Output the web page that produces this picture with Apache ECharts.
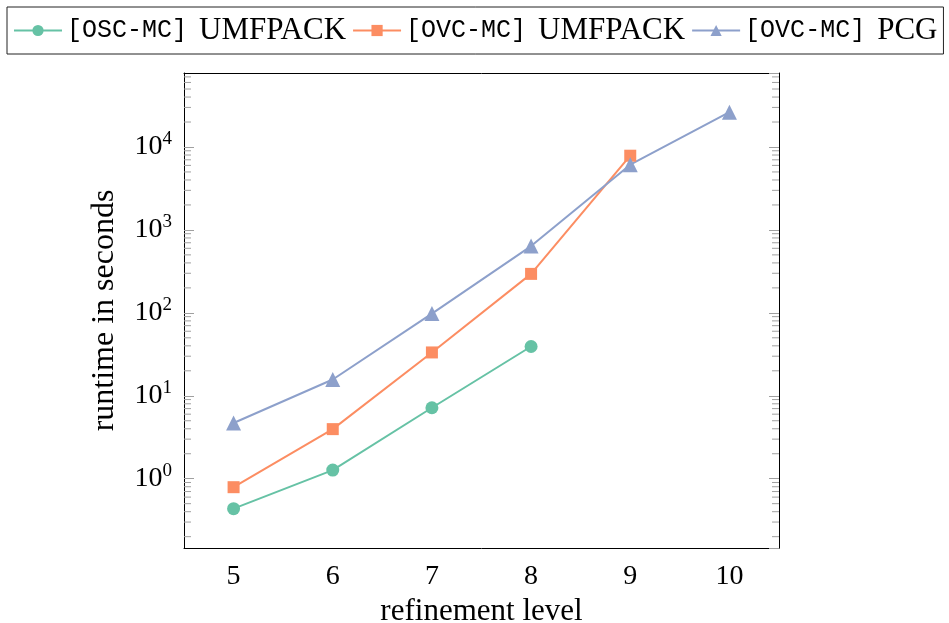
<!DOCTYPE html>
<html><head><meta charset="utf-8">
<script src="https://cdn.jsdelivr.net/npm/echarts@6/dist/echarts.min.js"></script>
<style>html,body{margin:0;padding:0;background:#fff}#c{width:949px;height:623px}</style>
</head><body><div id="c"></div>
<script>
// ---- data ----
const levels = ['5', '6', '7', '8', '9', '10'];
const oscUmfpack = [0.435, 1.27, 7.17, 39.3];
const ovcUmfpack = [0.79, 3.96, 33.3, 295, 7850];
const ovcPcg = [4.7, 15.7, 98, 638, 6120, 26300];
const seriesNames = ['[OSC-MC] UMFPACK', '[OVC-MC] UMFPACK', '[OVC-MC] PCG'];
const yMin = 0.146;
const yMax = 78000;
const minorTickValues = [
  0.2, 0.3, 0.4, 0.5, 0.6, 0.7, 0.8, 0.9,
  2, 3, 4, 5, 6, 7, 8, 9,
  20, 30, 40, 50, 60, 70, 80, 90,
  200, 300, 400, 500, 600, 700, 800, 900,
  2000, 3000, 4000, 5000, 6000, 7000, 8000, 9000,
  20000, 30000, 40000, 50000, 60000, 70000
];
// ---- styling ----
const SERIF = '"Liberation Serif", "DejaVu Serif", serif';
const MONO = '"Liberation Mono", "DejaVu Sans Mono", monospace';
const colors = ['#66c2a5', '#fc8d62', '#8da0cb'];
const tickColor = '#a0a0a0';

const chart = echarts.init(document.getElementById('c'), null, {renderer: 'canvas'});

function expLabel(v) {
  const e = Math.round(Math.log10(v));
  return '{b|10}{e|' + e + '}';
}

const yLabelRich = {
  b: {fontFamily: SERIF, fontSize: 28, color: '#000'},
  e: {fontFamily: SERIF, fontSize: 19, color: '#000', verticalAlign: 'top', padding: [0, 0, 15, 0]}
};

const lineSeries = [oscUmfpack, ovcUmfpack, ovcPcg].map((d, i) => ({
  name: seriesNames[i],
  type: 'line',
  data: d,
  xAxisIndex: 0,
  yAxisIndex: 0,
  symbol: ['circle', 'rect', 'triangle'][i],
  symbolSize: [13, 12, 15][i],
  lineStyle: {color: colors[i], width: 2},
  itemStyle: {color: colors[i]},
  z: 3
}));

const option = {
  animation: false,
  backgroundColor: '#fff',
  grid: {left: 184, right: 170, top: 73, bottom: 75, containLabel: false, outerBoundsMode: 'none'},
  legend: {
    data: seriesNames,
    left: 7,
    top: 7,
    padding: [8, 6, 8, 6],
    itemGap: 6,
    itemWidth: 48,
    itemHeight: 14,
    borderColor: '#222',
    borderWidth: 1,
    formatter: function (name) {
      return name.replace(/^(\[[^\]]+\])\s*(.*)$/, '{m|$1}{s|$2}');
    },
    textStyle: {
      fontFamily: SERIF,
      fontSize: 31,
      color: '#000',
      rich: {
        m: {fontFamily: MONO, fontSize: 25, color: '#000', lineHeight: 30},
        s: {fontFamily: SERIF, fontSize: 31, color: '#000', lineHeight: 30, padding: [0, 0, 0, 12]}
      }
    }
  },
  xAxis: [{
    type: 'category',
    data: levels,
    position: 'bottom',
    boundaryGap: true,
    axisLine: {lineStyle: {color: '#000', width: 1}},
    axisTick: {inside: true, alignWithLabel: true, length: 10, lineStyle: {color: tickColor}},
    axisLabel: {fontFamily: SERIF, fontSize: 28, color: '#000', margin: 15},
    name: 'refinement level',
    nameLocation: 'middle',
    nameGap: 44,
    nameTextStyle: {fontFamily: SERIF, fontSize: 31, color: '#000', verticalAlign: 'top'},
    splitLine: {show: false}
  }, {
    type: 'category',
    data: levels,
    position: 'top',
    boundaryGap: true,
    axisLine: {lineStyle: {color: '#000', width: 1}},
    axisTick: {inside: true, alignWithLabel: true, length: 10, lineStyle: {color: tickColor}},
    axisLabel: {show: false},
    splitLine: {show: false}
  }],
  yAxis: [{
    type: 'log',
    min: yMin,
    max: yMax,
    position: 'left',
    axisLine: {show: true, lineStyle: {color: '#000', width: 1}},
    axisTick: {show: true, inside: true, length: 10, lineStyle: {color: tickColor}},
    axisLabel: {showMinLabel: false, showMaxLabel: false, margin: 12, formatter: expLabel, rich: yLabelRich},
    splitLine: {show: false},
    name: 'runtime in seconds',
    nameLocation: 'middle',
    nameGap: 79,
    nameRotate: 90,
    nameTextStyle: {fontFamily: SERIF, fontSize: 32, color: '#000', verticalAlign: 'middle'}
  }, {
    type: 'log',
    min: yMin,
    max: yMax,
    position: 'right',
    axisLine: {show: true, lineStyle: {color: '#000', width: 1}},
    axisTick: {show: true, inside: true, length: 10, lineStyle: {color: tickColor}},
    axisLabel: {show: false},
    splitLine: {show: false}
  }],
  series: lineSeries.concat([{
    type: 'custom',
    name: 'minorTicks',
    silent: true,
    xAxisIndex: 0,
    yAxisIndex: 0,
    clip: false,
    z: 1,
    data: minorTickValues.map(v => [0, v]),
    encode: {x: 0, y: 1},
    renderItem: function (params, api) {
      const y = api.coord([0, api.value(1)])[1];
      const cs = params.coordSys;
      return {
        type: 'group',
        children: [
          {type: 'line', shape: {x1: cs.x, y1: y, x2: cs.x + 7, y2: y}, style: {stroke: tickColor, lineWidth: 1}},
          {type: 'line', shape: {x1: cs.x + cs.width - 7, y1: y, x2: cs.x + cs.width, y2: y}, style: {stroke: tickColor, lineWidth: 1}}
        ]
      };
    }
  }])
};
chart.setOption(option);
</script>
</body></html>
